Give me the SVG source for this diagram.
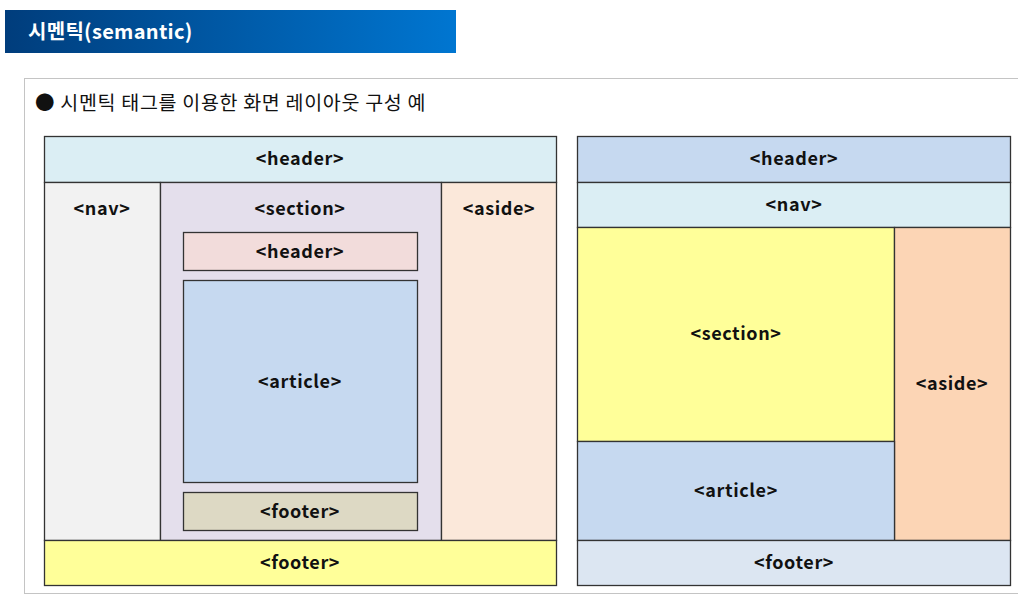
<svg xmlns="http://www.w3.org/2000/svg" width="1018" height="597" viewBox="0 0 1018 597">
<defs>
<linearGradient id="tg" x1="0" y1="0" x2="1" y2="0">
<stop offset="0" stop-color="#003d7c"/>
<stop offset="1" stop-color="#0076d1"/>
</linearGradient>
<style>
.b{stroke:#333;stroke-width:1.3}
.t{font-family:"Noto Sans CJK KR","Open Sans",sans-serif;font-weight:bold;font-size:18px;letter-spacing:0.6px;fill:#111;text-anchor:middle}
</style>
</defs>
<rect width="1018" height="597" fill="#fff"/>
<rect x="5" y="10" width="451" height="43" fill="url(#tg)"/>
<text x="28" y="39" font-family="Noto Sans CJK KR,sans-serif" font-weight="bold" font-size="20" fill="#fff" letter-spacing="0.3">시멘틱(semantic)</text>
<rect x="24.5" y="78.5" width="1000" height="515" fill="#fff" stroke="#c4c4c4" stroke-width="1"/>
<text x="35" y="110" font-family="Noto Sans CJK KR,sans-serif" font-size="19.5" fill="#111" letter-spacing="0.7">● 시멘틱 태그를 이용한 화면 레이아웃 구성 예</text>
<g id="left">
<g id="l-header"><rect class="b" x="44.5" y="136.5" width="512" height="46" fill="#dbeef4"/><text class="t" x="300" y="165">&lt;header&gt;</text></g>
<g id="l-nav"><rect class="b" x="44.5" y="182.5" width="116" height="358" fill="#f2f2f2"/><text class="t" x="102" y="215">&lt;nav&gt;</text></g>
<g id="l-section"><rect class="b" x="160.5" y="182.5" width="281" height="358" fill="#e4dfec"/><text class="t" x="300" y="215">&lt;section&gt;</text></g>
<g id="l-aside"><rect class="b" x="441.5" y="182.5" width="115" height="358" fill="#fbe8da"/><text class="t" x="499" y="215">&lt;aside&gt;</text></g>
<g id="l-inheader"><rect class="b" x="183.5" y="232.5" width="234" height="38" fill="#f2dcdb"/><text class="t" x="300" y="258">&lt;header&gt;</text></g>
<g id="l-article"><rect class="b" x="183.5" y="280.5" width="234" height="202" fill="#c6d9f0"/><text class="t" x="300" y="388">&lt;article&gt;</text></g>
<g id="l-infooter"><rect class="b" x="183.5" y="492.5" width="234" height="38" fill="#ddd9c4"/><text class="t" x="300" y="518">&lt;footer&gt;</text></g>
<g id="l-footer"><rect class="b" x="44.5" y="540.5" width="512" height="45" fill="#ffff99"/><text class="t" x="300" y="569">&lt;footer&gt;</text></g>
</g>
<g id="right">
<g id="r-header"><rect class="b" x="577.5" y="136.5" width="433" height="46" fill="#c6d9f0"/><text class="t" x="794" y="165">&lt;header&gt;</text></g>
<g id="r-nav"><rect class="b" x="577.5" y="182.5" width="433" height="45" fill="#dbeef4"/><text class="t" x="794" y="211">&lt;nav&gt;</text></g>
<g id="r-section"><rect class="b" x="577.5" y="227.5" width="317" height="214" fill="#ffff99"/><text class="t" x="736" y="340">&lt;section&gt;</text></g>
<g id="r-aside"><rect class="b" x="894.5" y="227.5" width="116" height="313" fill="#fcd5b5"/><text class="t" x="952" y="390">&lt;aside&gt;</text></g>
<g id="r-article"><rect class="b" x="577.5" y="441.5" width="317" height="99" fill="#c6d9f0"/><text class="t" x="736" y="497">&lt;article&gt;</text></g>
<g id="r-footer"><rect class="b" x="577.5" y="540.5" width="433" height="45" fill="#dce6f2"/><text class="t" x="794" y="569">&lt;footer&gt;</text></g>
</g>
<g id="connectors"/>
</svg>
